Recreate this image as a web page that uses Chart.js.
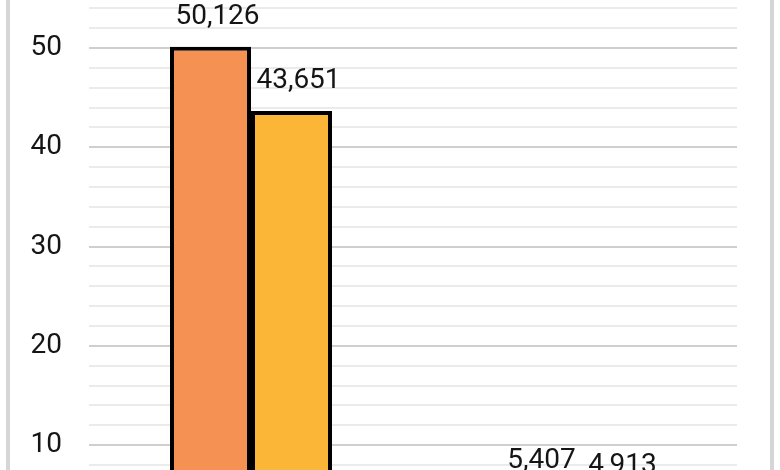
<!DOCTYPE html>
<html>
<head>
<meta charset="utf-8">
<script src="https://cdn.jsdelivr.net/npm/chart.js@4"></script>
<style>
    html, body { margin: 0; padding: 0; background: #fff; }
    #frame { position: relative; width: 780px; height: 470px; overflow: hidden; background: #fff; }
    #edgeL, #edgeR { position: absolute; top: 0; width: 4px; height: 470px; background: #d6d6d6; }
    #edgeL { left: 6px; }
    #edgeR { left: 770px; }
    #plot { position: absolute; left: 0; top: -40px; width: 780px; height: 620px; }
</style>
</head>
<body>
<div id="frame">
    <div id="plot"><canvas id="barChart"></canvas></div>
    <div id="edgeL"></div>
    <div id="edgeR"></div>
</div>
<script>
const categories = ['1', '2'];
const seriesNames = ['Seria 1', 'Seria 2'];
const seriesA = [50.126, 5.407];
const seriesB = [43.651, 4.913];
const yTicks = [10, 20, 30, 40, 50];

const FONT = 'Roboto, "Open Sans", sans-serif';

// value labels above the bars, comma as decimal separator
const valueLabels = {
    id: 'valueLabels',
    afterDatasetsDraw(chart) {
        const ctx = chart.ctx;
        ctx.save();
        ctx.font = '28px ' + FONT;
        ctx.fillStyle = '#151515';
        ctx.textAlign = 'center';
        ctx.textBaseline = 'alphabetic';
        chart.data.datasets.forEach((ds, i) => {
            chart.getDatasetMeta(i).data.forEach((bar, j) => {
                const txt = ds.data[j].toFixed(3).replace('.', ',');
                ctx.fillText(txt, bar.x + 7, bar.y - 23);
            });
        });
        ctx.restore();
    }
};

const ctx = document.getElementById('barChart').getContext('2d');
new Chart(ctx, {
    type: 'bar',
    data: {
        labels: categories,
        datasets: [{
            label: seriesNames[0],
            data: seriesA,
            backgroundColor: '#f59153',
            borderColor: '#000000',
            borderWidth: 4,
            borderSkipped: false
        }, {
            label: seriesNames[1],
            data: seriesB,
            backgroundColor: '#fbb537',
            borderColor: '#000000',
            borderWidth: 4,
            borderSkipped: false
        }]
    },
    options: {
        responsive: true,
        maintainAspectRatio: false,
        animation: false,
        events: [],
        categoryPercentage: 0.5,
        barPercentage: 1.0,
        layout: {
            padding: { left: 0, right: 43, top: 28.4, bottom: 35.5 }
        },
        plugins: {
            legend: { display: false },
            tooltip: { enabled: false }
        },
        scales: {
            x: {
                display: false
            },
            y: {
                min: 0,
                max: 56,
                border: { display: false },
                afterFit(scale) {
                    scale.width = 89;
                    scale.paddingTop = 0;
                    scale.paddingBottom = 0;
                },
                grid: {
                    drawTicks: false,
                    lineWidth: 2,
                    color: c => (yTicks.includes(c.tick.value) || c.tick.value === 0) ? '#cfcfcf' : '#ebebeb'
                },
                ticks: {
                    stepSize: 2,
                    autoSkip: false,
                    padding: 27,
                    color: '#151515',
                    font: { family: FONT, size: 28 },
                    callback: v => yTicks.includes(v) ? String(v) : ''
                }
            }
        }
    },
    plugins: [valueLabels]
});
</script>
</body>
</html>
